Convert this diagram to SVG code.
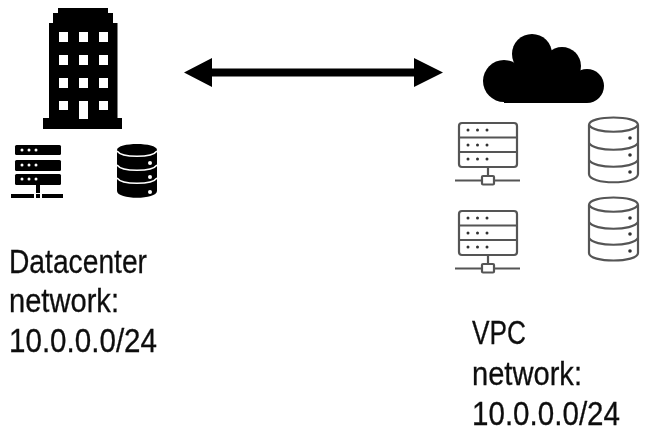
<svg xmlns="http://www.w3.org/2000/svg" width="647" height="434" viewBox="0 0 647 434">
<style>
text{font-family:"Liberation Sans",Arial,sans-serif;font-size:33px;fill:#111;stroke:#111;stroke-width:0.300}
.dk{fill:#000}
.w{fill:#fff}
.ol{fill:#fff;stroke:#555;stroke-width:2.200}
.ln{fill:none;stroke:#555;stroke-width:2.200}
.d{fill:#333}
.soft{filter:url(#b)}
.tx{filter:url(#t)}
</style>
<defs>
<filter id="b" x="-5%" y="-5%" width="110%" height="110%"><feGaussianBlur stdDeviation="0.7"/></filter>
<filter id="t" x="-5%" y="-5%" width="110%" height="110%"><feGaussianBlur stdDeviation="0.35"/></filter>
<g id="lightServer">
<rect class="ol" x="459" y="123" width="58" height="44" rx="3"/>
<path class="ln" d="M459 137.500H517M459 152H517M488 167V177M455 180.500H482M494 180.500H520"/>
<rect class="ol" x="482" y="176" width="12" height="8.500" rx="1"/>
<circle class="d" cx="468" cy="130" r="1.500"/><circle class="d" cx="477.500" cy="130" r="1.500"/><circle class="d" cx="487" cy="130" r="1.500"/>
<circle class="d" cx="468" cy="145" r="1.500"/><circle class="d" cx="477.500" cy="145" r="1.500"/><circle class="d" cx="487" cy="145" r="1.500"/>
<circle class="d" cx="468" cy="159" r="1.500"/><circle class="d" cx="477.500" cy="159" r="1.500"/><circle class="d" cx="487" cy="159" r="1.500"/>
</g>
</defs>
<g id="connectors" class="soft">
<path class="dk" d="M184 72.500L212 58V68.500H414V58L443 72.500L414 87V76.500H212V87Z"/>
</g>
<g id="datacenter-building" class="soft">
<path class="dk" d="M58 8H108V13H113V23H117.500V118H122V129H43V118H49V23H53V13H58Z"/>
<g class="w">
<rect x="59" y="32" width="9" height="10"/><rect x="79" y="32" width="9" height="10"/><rect x="99" y="32" width="9" height="10"/>
<rect x="59" y="55" width="9" height="10"/><rect x="79" y="55" width="9" height="10"/><rect x="99" y="55" width="9" height="10"/>
<rect x="59" y="78" width="9" height="10"/><rect x="79" y="78" width="9" height="10"/><rect x="99" y="78" width="9" height="10"/>
<rect x="59" y="101" width="9" height="9"/><rect x="79" y="101" width="9" height="18"/><rect x="99" y="101" width="9" height="9"/>
</g>
</g>
<g id="datacenter-server" class="soft">
<rect class="dk" x="15" y="145" width="46" height="10" rx="1.500"/>
<rect class="dk" x="15" y="160" width="46" height="11" rx="1.500"/>
<rect class="dk" x="15" y="174" width="46" height="11" rx="1.500"/>
<path class="dk" d="M36 185H40V193H36ZM11 194H34V198H11ZM42 194H63V198H42ZM36 194H40V198H36Z"/>
<g class="w">
<circle cx="22" cy="150" r="1.500"/><circle cx="29" cy="150" r="1.500"/><circle cx="36" cy="150" r="1.500"/>
<circle cx="22" cy="165" r="1.500"/><circle cx="29" cy="165" r="1.500"/><circle cx="36" cy="165" r="1.500"/>
<circle cx="22" cy="179" r="1.500"/><circle cx="29" cy="179" r="1.500"/><circle cx="36" cy="179" r="1.500"/>
</g>
</g>
<g id="datacenter-database" class="soft">
<path class="dk" d="M117 150C117 142 157 142 157 150V191C157 200 117 200 117 191Z"/>
<path fill="none" stroke="#fff" stroke-width="1.500" d="M117 151C122 158 152 158 157 151M117 165C122 172 152 172 157 165M117 178C122 185 152 185 157 178"/>
<circle class="w" cx="150" cy="163" r="2"/><circle class="w" cx="150" cy="177" r="2"/><circle class="w" cx="150" cy="192" r="2"/>
</g>
<g id="vpc-cloud" class="soft">
<g class="dk">
<circle cx="504" cy="81" r="21"/><circle cx="532" cy="54" r="20"/><circle cx="562" cy="66" r="19"/><circle cx="587" cy="86" r="17"/>
<rect x="516" y="60" width="50" height="43"/><rect x="504" y="78" width="83" height="25"/>
</g>
</g>
<g id="vpc-server-1" class="soft"><use href="#lightServer"/></g>
<g id="vpc-server-2" class="soft"><use href="#lightServer" y="88"/></g>
<g id="vpc-database-1" class="soft">
<path class="ol" d="M589 125C589 115 638 115 638 125V174C638 185 589 185 589 174Z"/>
<path class="ln" d="M589 125C594 134 633 134 638 125M589 143C594 152 633 152 638 143M589 160C594 169 633 169 638 160"/>
<circle class="d" cx="630" cy="138" r="1.800"/><circle class="d" cx="630" cy="155" r="1.800"/><circle class="d" cx="630" cy="172" r="1.800"/>
</g>
<g id="vpc-database-2" class="soft">
<path class="ol" d="M589 205C589 195 638 195 638 205V253C638 263 589 263 589 253Z"/>
<path class="ln" d="M589 205C594 214 633 214 638 205M589 222C594 231 633 231 638 222M589 238C594 247 633 247 638 238"/>
<circle class="d" cx="630" cy="218" r="1.800"/><circle class="d" cx="630" cy="234" r="1.800"/><circle class="d" cx="630" cy="251" r="1.800"/>
</g>
<g id="datacenter-label" class="tx">
<text x="9" y="273" textLength="138" lengthAdjust="spacingAndGlyphs">Datacenter</text>
<text x="9" y="312" textLength="110" lengthAdjust="spacingAndGlyphs">network:</text>
<text x="9" y="352" textLength="148" lengthAdjust="spacingAndGlyphs">10.0.0.0/24</text>
</g>
<g id="vpc-label" class="tx">
<text x="472" y="344" textLength="54" lengthAdjust="spacingAndGlyphs">VPC</text>
<text x="472" y="385" textLength="110" lengthAdjust="spacingAndGlyphs">network:</text>
<text x="472" y="425" textLength="148" lengthAdjust="spacingAndGlyphs">10.0.0.0/24</text>
</g>
</svg>
